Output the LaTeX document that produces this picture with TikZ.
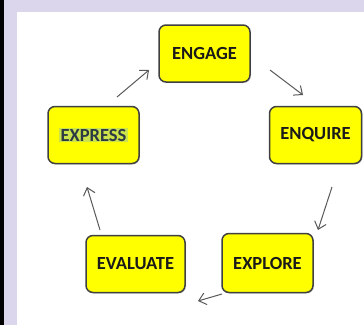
\documentclass[tikz,border=0pt]{standalone}
\usepackage{fontspec}
\setmainfont{Carlito}
\usetikzlibrary{arrows.meta,shadows}
\definecolor{lav}{HTML}{DCD6EC}
\definecolor{boxy}{HTML}{FFFF00}
\definecolor{hl}{HTML}{CDE34A}
\definecolor{txt}{HTML}{1A1A1A}
\definecolor{exptxt}{HTML}{2C3A44}
\begin{document}
\begin{tikzpicture}[x=1pt,y=-1pt,
  stagebox/.style={draw=black!75, line width=1.5pt, fill=boxy, rounded corners=7pt,
    minimum height=57pt, inner sep=0pt, font=\bfseries\fontsize{18.5}{20}\selectfont, text=txt,
    drop shadow={shadow xshift=1pt, shadow yshift=-1pt, opacity=0.25}},
  flow/.style={draw=black!65, line width=1pt, -{Straight Barb[length=7pt,width=12pt]}}]
\useasboundingbox (0,0) rectangle (364,325);
\fill[lav] (0,0) rectangle (364,325);
\fill[black] (0,0) rectangle (4,325);
\fill[white] (17,12) rectangle (364,325);
\node[stagebox, minimum width=91pt] (engage) at (204.5,53.5) {ENGAGE};
\node[stagebox, minimum width=92pt] (enquire) at (315.5,135) {ENQUIRE};
\node[stagebox, minimum width=91pt] (express) at (93.5,135) {};
\node[fill=hl, inner xsep=2pt, inner ysep=1pt, font=\bfseries\fontsize{18.5}{20}\selectfont, text=exptxt] (exptext) at (express.center) {EXPRESS};
\node[stagebox, minimum width=99pt] (evaluate) at (135.5,264) {EVALUATE};
\node[stagebox, minimum width=91pt, minimum height=59pt] (explore) at (267.5,263) {EXPLORE};
\coordinate (a1s) at (117,97); \coordinate (a1e) at (149,70);
\coordinate (a2s) at (270,70); \coordinate (a2e) at (303,95);
\coordinate (a3s) at (332,187); \coordinate (a3e) at (318,230);
\coordinate (a4s) at (222,294); \coordinate (a4e) at (198,301);
\coordinate (a5s) at (100,230); \coordinate (a5e) at (87,187);
\draw[flow] (a1s) -- (a1e);
\draw[flow] (a2s) -- (a2e);
\draw[flow] (a3s) -- (a3e);
\draw[flow] (a4s) -- (a4e);
\draw[flow] (a5s) -- (a5e);
\end{tikzpicture}
\end{document}
